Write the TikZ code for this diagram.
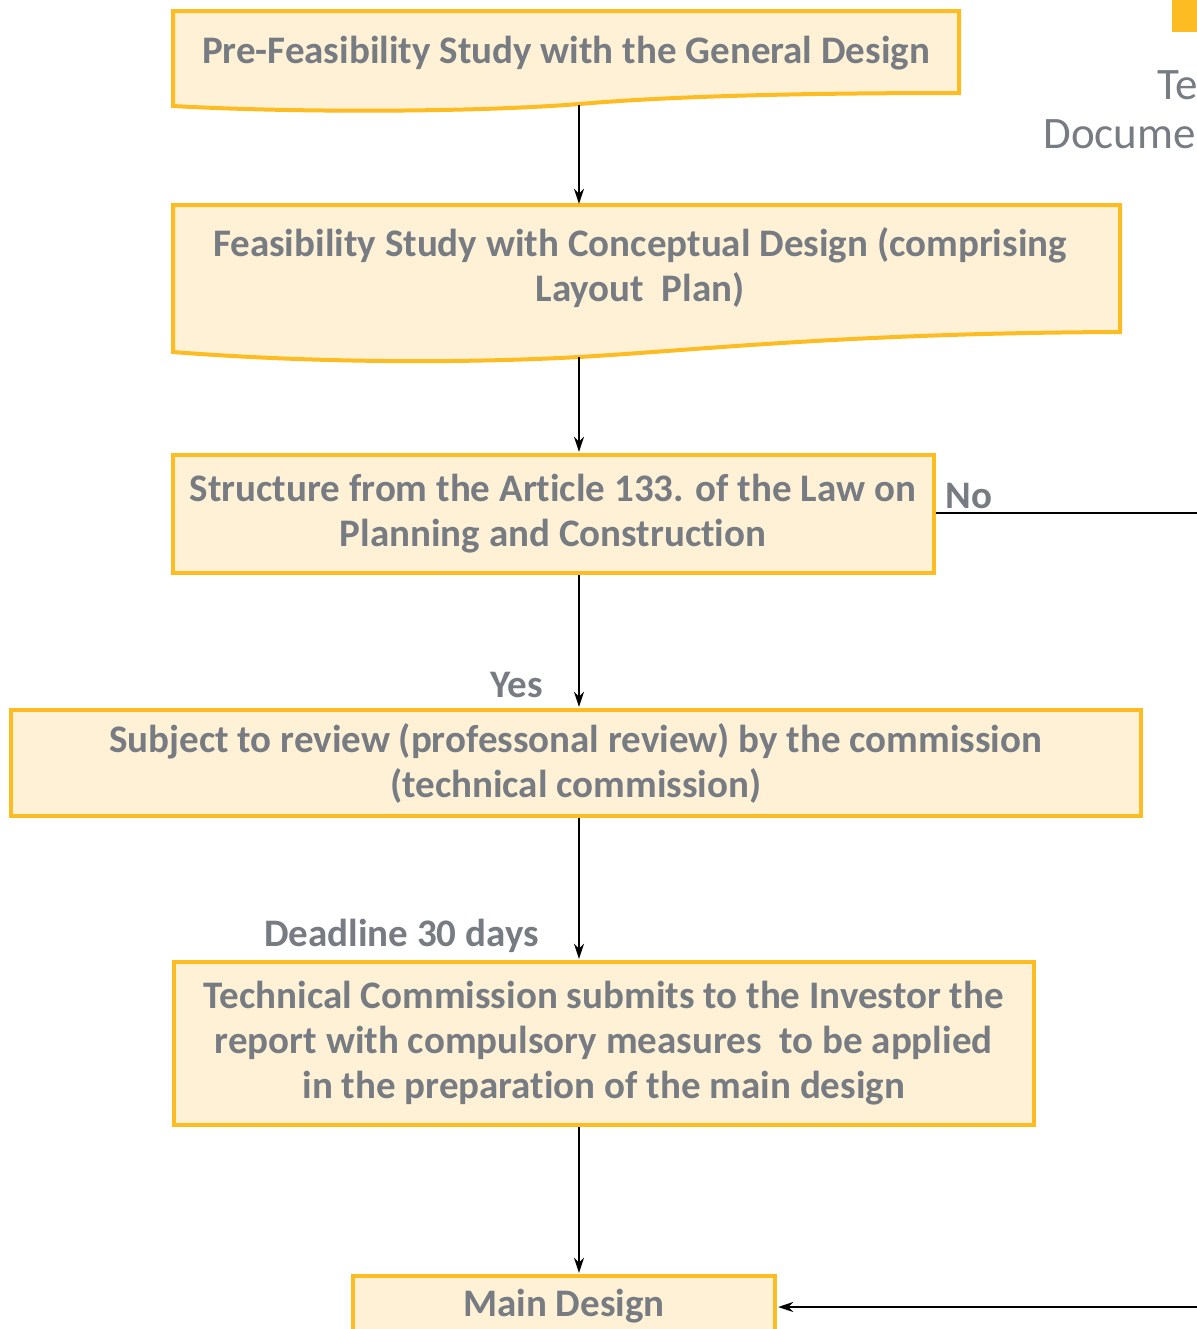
\documentclass[tikz,border=0pt]{standalone}
\usepackage{fontspec}
\setmainfont{Carlito}[Ligatures={NoCommon,NoContextual}]
\usetikzlibrary{arrows.meta}
\definecolor{bord}{HTML}{FDBC22}
\definecolor{fillc}{HTML}{FEF1D6}
\definecolor{txt}{HTML}{777B82}
\newcommand{\nolig}{\kern0pt}
\begin{document}
\begin{tikzpicture}[x=0.5pt,y=-0.5pt,
  boxfont/.style={font=\bfseries\fontsize{19.5}{22.5}\selectfont},
  box/.style={draw=bord, fill=fillc, line width=2pt, text=txt, boxfont, align=center, inner sep=0pt},
  docshape/.style={draw=bord, fill=fillc, line width=2pt},
  doctext/.style={text=txt, boxfont, align=center, inner sep=0pt},
  lab/.style={text=txt, boxfont, inner sep=0pt},
  toplab/.style={text=txt, font=\fontsize{22.5}{24.5}\selectfont, inner sep=0pt},
  arr/.style={-{Stealth[length=7.5pt,width=5pt]}, line width=1pt, black, shorten >=0.6pt},
  plain/.style={line width=1pt, black}]
\useasboundingbox (0,0) rectangle (1197,1329);
\clip (0,0) rectangle (1197,1329);

% top-right partial elements (cut off at the picture edge, as in the reference)
\fill[bord] (1172,0) rectangle (1197,32);
\node[toplab, anchor=base west] (tr1) at (1157,99) {Technical};
\node[toplab, anchor=base west] (tr2) at (1043,148) {Documentation};

% box 1 (document shape)
\draw[docshape] (173,11) -- (959,11) -- (959,93)
  .. controls (760,93) and (650,98) .. (579,104)
  .. controls (480,112) and (300,113) .. (173,106) -- cycle;
\node[doctext] (t1) at (566,53) {Pre-Feasibility Study with the General Design};
\coordinate (d1) at (579,105);

% box 2 (document shape)
\draw[docshape] (173,205) -- (1120,205) -- (1120,332)
  .. controls (850,333) and (700,350) .. (579,357)
  .. controls (450,364) and (300,362) .. (173,352) -- cycle;
\node[doctext] (t2) at (640,268) {Feasibility Study with Conceptual Design (comprising\\Layout~~Plan)};
\coordinate (d2top) at (579,205);
\coordinate (d2bot) at (579,357);

\coordinate (ax) at (579,0);

% box 3
\node[box, minimum width=380.5pt, minimum height=59pt] (b3) at (553,514)
  {Structure from the Art\nolig icle 133. of the Law on\\Planning and Construct\nolig ion};
% box 4
\node[box, minimum width=565.25pt, minimum height=53pt] (b4) at (575.75,763)
  {Subject to review (professonal review) by the commission\\(technical commission)};
% box 5
\node[box, minimum width=430.25pt, minimum height=81.5pt] (b5) at (603.75,1043.5)
  {Technical Commission submits to the Investor the\\report with compulsory measures~~to be applied\\in the preparat\nolig ion of the main design};
% box 6
\node[box, minimum width=211pt, minimum height=60pt, anchor=north] (b6) at (564,1274) {};
\node[lab] (t6) at (564,1306) {Main Design};

% labels
\node[lab] (no) at (969,496) {No};
\node[lab] (yes) at (517,685) {Yes};
\node[lab] (dl) at (401.5,936) {Deadline 30 days};

% connectors
\draw[arr] (d1) -- (d2top);
\draw[arr] (d2bot) -- (b3.north -| ax);
\draw[arr] (b3.south -| ax) -- (b4.north -| ax);
\draw[arr] (b4.south -| ax) -- (b5.north -| ax);
\draw[arr] (b5.south -| ax) -- (b6.north -| ax);
\coordinate (noend) at (1197,513);
\draw[plain] (b3.east |- noend) -- (noend);
\coordinate (mdstart) at (1197,1307);
\draw[arr] (mdstart) -- (mdstart -| b6.east);
\end{tikzpicture}
\end{document}
